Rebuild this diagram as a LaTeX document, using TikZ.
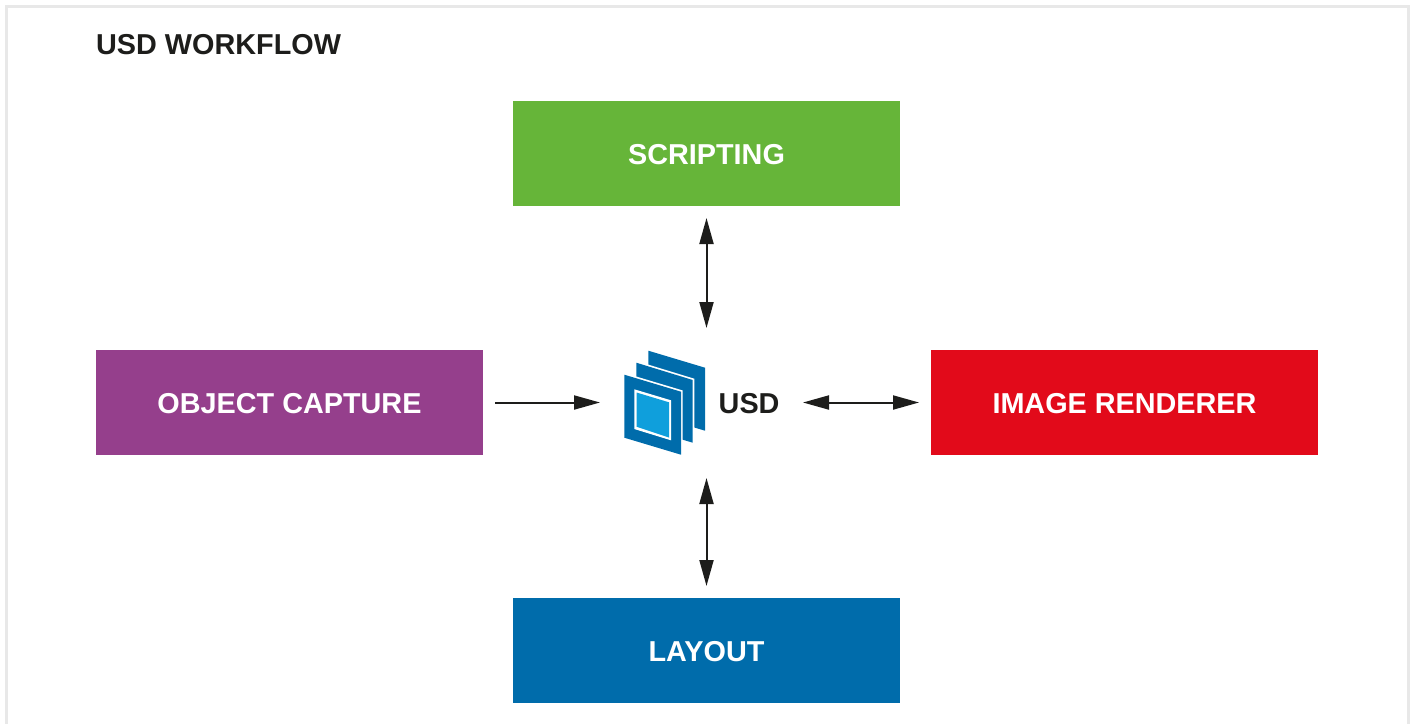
\documentclass[tikz,border=0pt]{standalone}
\usepackage{fontspec}
\setmainfont{Liberation Sans}
\usepackage{xcolor}
\usetikzlibrary{arrows.meta, positioning}

\definecolor{scriptgreen}{HTML}{66B539}
\definecolor{capturepurple}{HTML}{953F8C}
\definecolor{rendererred}{HTML}{E20A1A}
\definecolor{layoutblue}{HTML}{006CAB}
\definecolor{usdlight}{HTML}{0F9FDC}
\definecolor{textblack}{HTML}{1D1D1B}
\definecolor{framegrey}{HTML}{E8E8E8}

\tikzset{
    stagebox/.style={fill=#1, text=white, minimum width=387pt, minimum height=105pt,
        outer sep=12pt, inner sep=0pt, text height=22pt, text depth=0pt,
        font=\fontsize{28.8}{32}\selectfont\bfseries},
    flowarrow/.style={draw=textblack, line width=2pt,
        -{Stealth[length=26pt,width=14pt,inset=0pt]}},
    flowboth/.style={draw=textblack, line width=2pt,
        {Stealth[length=26pt,width=14pt,inset=0pt]}-{Stealth[length=26pt,width=14pt,inset=0pt]}},
    sheet/.style={draw=white, line width=3.4pt, line join=miter,
        postaction={fill=layoutblue, draw=none}},
}

\begin{document}
\begin{tikzpicture}[x=1pt,y=-1pt]
    \useasboundingbox (0,0) rectangle (1413,724);
    \draw[framegrey, line width=3pt] (6.5,724) -- (6.5,6.5) -- (1408.5,6.5) -- (1408.5,724);

    \node[anchor=base west, text=textblack, inner sep=0pt, font=\fontsize{28.8}{32}\selectfont\bfseries]
        (title) at (96,54) {USD WORKFLOW};

    \node[stagebox=scriptgreen] (scripting) at (706.5,153.5) {SCRIPTING};
    \node[stagebox=capturepurple] (capture) at (289.5,402.5) {OBJECT CAPTURE};
    \node[stagebox=rendererred] (renderer) at (1124.5,402.5) {IMAGE RENDERER};
    \node[stagebox=layoutblue] (layout) at (706.5,650.5) {LAYOUT};

    % usd icon, back to front
    \fill[layoutblue] (648.3,350.7) -- (705,367.7) -- (705,430.7) -- (648.3,413.7) -- cycle;
    \path[sheet] (636.3,362.7) -- (692.7,380) -- (692.7,442.7) -- (636.3,425.7) -- cycle;
    \path[sheet] (624.3,374.7) -- (681,391.7) -- (681,454.7) -- (624.3,437.7) -- cycle;
    \fill[white] (634.3,389.3) -- (671,400.3) -- (671,440.3) -- (634.3,429) -- cycle;
    \fill[usdlight] (636.5,392.5) -- (669,402.3) -- (669,437.5) -- (636.5,426.7) -- cycle;

    \node[anchor=base west, text=textblack, inner sep=0pt, font=\fontsize{28.8}{32}\selectfont\bfseries]
        (usd) at (718.5,413.5) {USD};

    \coordinate (usdtop) at (706.5,328);
    \coordinate (usdbottom) at (706.5,478);
    \coordinate (usdleft) at (600,402.5);
    \coordinate (usdright) at (803,402.5);

    \draw[flowboth] (scripting) -- (usdtop);
    \draw[flowarrow] (capture) -- (usdleft);
    \draw[flowboth] (renderer) -- (usdright);
    \draw[flowboth] (layout) -- (usdbottom);
\end{tikzpicture}
\end{document}
